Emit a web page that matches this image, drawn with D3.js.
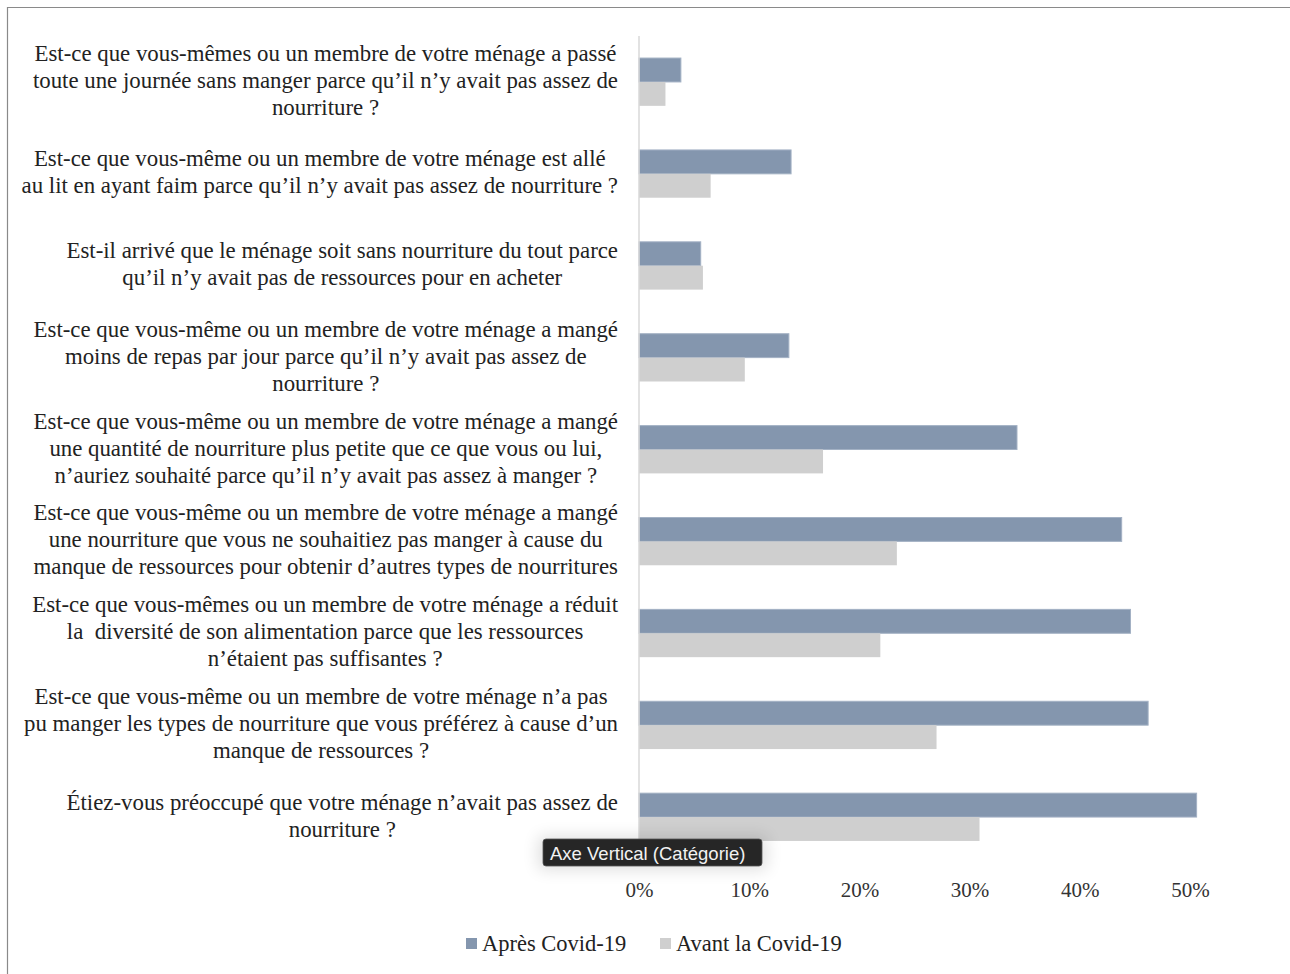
<!DOCTYPE html>
<html><head><meta charset="utf-8">
<script src="https://cdn.jsdelivr.net/npm/d3@7/dist/d3.min.js"></script>
<style>
html,body{margin:0;padding:0;background:#fff;}
svg{display:block;}
text{white-space:pre;}
</style></head>
<body>
<svg id="chart" width="1290" height="974"></svg>
<script>
const categories = [
  ["Est-ce que vous-mêmes ou un membre de votre ménage a passé", "toute une journée sans manger parce qu’il n’y avait pas assez de", "nourriture ?"],
  ["Est-ce que vous-même ou un membre de votre ménage est allé", "au lit en ayant faim parce qu’il n’y avait pas assez de nourriture ?"],
  ["Est-il arrivé que le ménage soit sans nourriture du tout parce", "qu’il n’y avait pas de ressources pour en acheter"],
  ["Est-ce que vous-même ou un membre de votre ménage a mangé", "moins de repas par jour parce qu’il n’y avait pas assez de", "nourriture ?"],
  ["Est-ce que vous-même ou un membre de votre ménage a mangé", "une quantité de nourriture plus petite que ce que vous ou lui,", "n’auriez souhaité parce qu’il n’y avait pas assez à manger ?"],
  ["Est-ce que vous-même ou un membre de votre ménage a mangé", "une nourriture que vous ne souhaitiez pas manger à cause du", "manque de ressources pour obtenir d’autres types de nourritures"],
  ["Est-ce que vous-mêmes ou un membre de votre ménage a réduit", "la  diversité de son alimentation parce que les ressources", "n’étaient pas suffisantes ?"],
  ["Est-ce que vous-même ou un membre de votre ménage n’a pas", "pu manger les types de nourriture que vous préférez à cause d’un", "manque de ressources ?"],
  ["Étiez-vous préoccupé que votre ménage n’avait pas assez de", "nourriture ?"]
];
const seriesNames = ["Après Covid-19", "Avant la Covid-19"];
const apres = [0.038, 0.138, 0.056, 0.136, 0.343, 0.438, 0.446, 0.462, 0.506];
const avant = [0.024, 0.065, 0.058, 0.096, 0.167, 0.234, 0.219, 0.270, 0.309];
const tickValues = [0, 0.1, 0.2, 0.3, 0.4, 0.5];
const colors = ["#8496ae", "#cfcfcf"];

const svg = d3.select("#chart");
const serif = "'Liberation Serif', 'DejaVu Serif', serif";

// frame
svg.append("path").attr("d", "M7.5,974 L7.5,7.5 L1290,7.5")
  .attr("fill", "none").attr("stroke", "#8a8a8a").attr("stroke-width", 1.2);

const x = d3.scaleLinear().domain([0, 0.5]).range([639, 1190]);
const y = d3.scaleBand().domain(d3.range(categories.length)).range([36, 863])
  .paddingInner(0.48).paddingOuter(0.24);
const sub = d3.scaleBand().domain([0, 1]).range([0, y.bandwidth()]);

const data = categories.map((c, i) => ({i, vals: [apres[i], avant[i]]}));

const g = svg.append("g");
const groups = g.selectAll("g.cat").data(data).join("g")
  .attr("transform", d => `translate(0,${y(d.i)})`);
groups.selectAll("rect").data(d => d.vals.map((v, k) => ({v, k}))).join("rect")
  .attr("x", x(0))
  .attr("y", d => sub(d.k))
  .attr("width", d => x(d.v) - x(0))
  .attr("height", sub.bandwidth())
  .attr("fill", d => colors[d.k])
  .attr("stroke", d => d.k === 0 ? "#a3b1c4" : "none")
  .attr("stroke-width", 1);

// vertical axis line
svg.append("line").attr("x1", x(0)).attr("x2", x(0)).attr("y1", 36).attr("y2", 866)
  .attr("stroke", "#d9d9d9").attr("stroke-width", 1.5);

// x axis
const xAxis = d3.axisBottom(x).tickValues(tickValues).tickFormat(d3.format(".0%")).tickSize(0);
const ax = svg.append("g").attr("transform", "translate(0,879)").call(xAxis);
ax.select(".domain").remove();
ax.selectAll("text").attr("font-family", serif).attr("font-size", 21).attr("fill", "#333");

// category labels
const baseSize = 20;
const labelG = svg.append("g").attr("font-family", serif).attr("fill", "#222");
const tmp = labelG.append("text").attr("font-size", baseSize);
let maxW = 0;
categories.forEach(lines => lines.forEach(l => { tmp.text(l); maxW = Math.max(maxW, tmp.node().getComputedTextLength()); }));
tmp.remove();
const fs = baseSize * 597 / maxW;
const lh = 27;
const rightEdge = 618;
categories.forEach((lines, i) => {
  const t = labelG.append("text").attr("font-size", fs);
  let w = 0;
  lines.forEach(l => { t.text(l); w = Math.max(w, t.node().getComputedTextLength()); });
  t.text(null);
  const cx = rightEdge - w / 2;
  const cy = y(i) + y.bandwidth() / 2 - 2;
  const n = lines.length;
  t.attr("text-anchor", "middle").attr("dominant-baseline", "central");
  lines.forEach((l, j) => {
    t.append("tspan").attr("x", cx).attr("y", cy + (j - (n - 1) / 2) * lh).text(l);
  });
});

// legend
const leg = svg.append("g").attr("font-family", serif).attr("font-size", 22.5).attr("fill", "#222");
const legX = [466, 660];
seriesNames.forEach((s, k) => {
  leg.append("rect").attr("x", legX[k]).attr("y", 938).attr("width", 11).attr("height", 11).attr("fill", colors[k]);
  leg.append("text").attr("x", legX[k] + 16).attr("y", 943).attr("dominant-baseline", "central").text(s);
});

// tooltip overlay
const tip = svg.append("g");
const defs = svg.append("defs");
const f = defs.append("filter").attr("id", "sh").attr("x", "-30%").attr("y", "-100%").attr("width", "160%").attr("height", "300%");
f.append("feGaussianBlur").attr("stdDeviation", 8);
tip.append("rect").attr("x", 538).attr("y", 836).attr("width", 229).attr("height", 34).attr("rx", 4)
  .attr("fill", "#000").attr("opacity", 0.12).attr("filter", "url(#sh)");
tip.append("rect").attr("x", 543).attr("y", 839).attr("width", 219).attr("height", 27).attr("rx", 3)
  .attr("fill", "#262626").attr("stroke", "#555").attr("stroke-width", 0.8);
tip.append("text").attr("x", 550).attr("y", 853).attr("dominant-baseline", "central")
  .attr("font-family", "'Liberation Sans', Arial, sans-serif").attr("font-size", 18.5).attr("fill", "#f2f2f2")
  .text("Axe Vertical (Catégorie)");
</script>
</body></html>
